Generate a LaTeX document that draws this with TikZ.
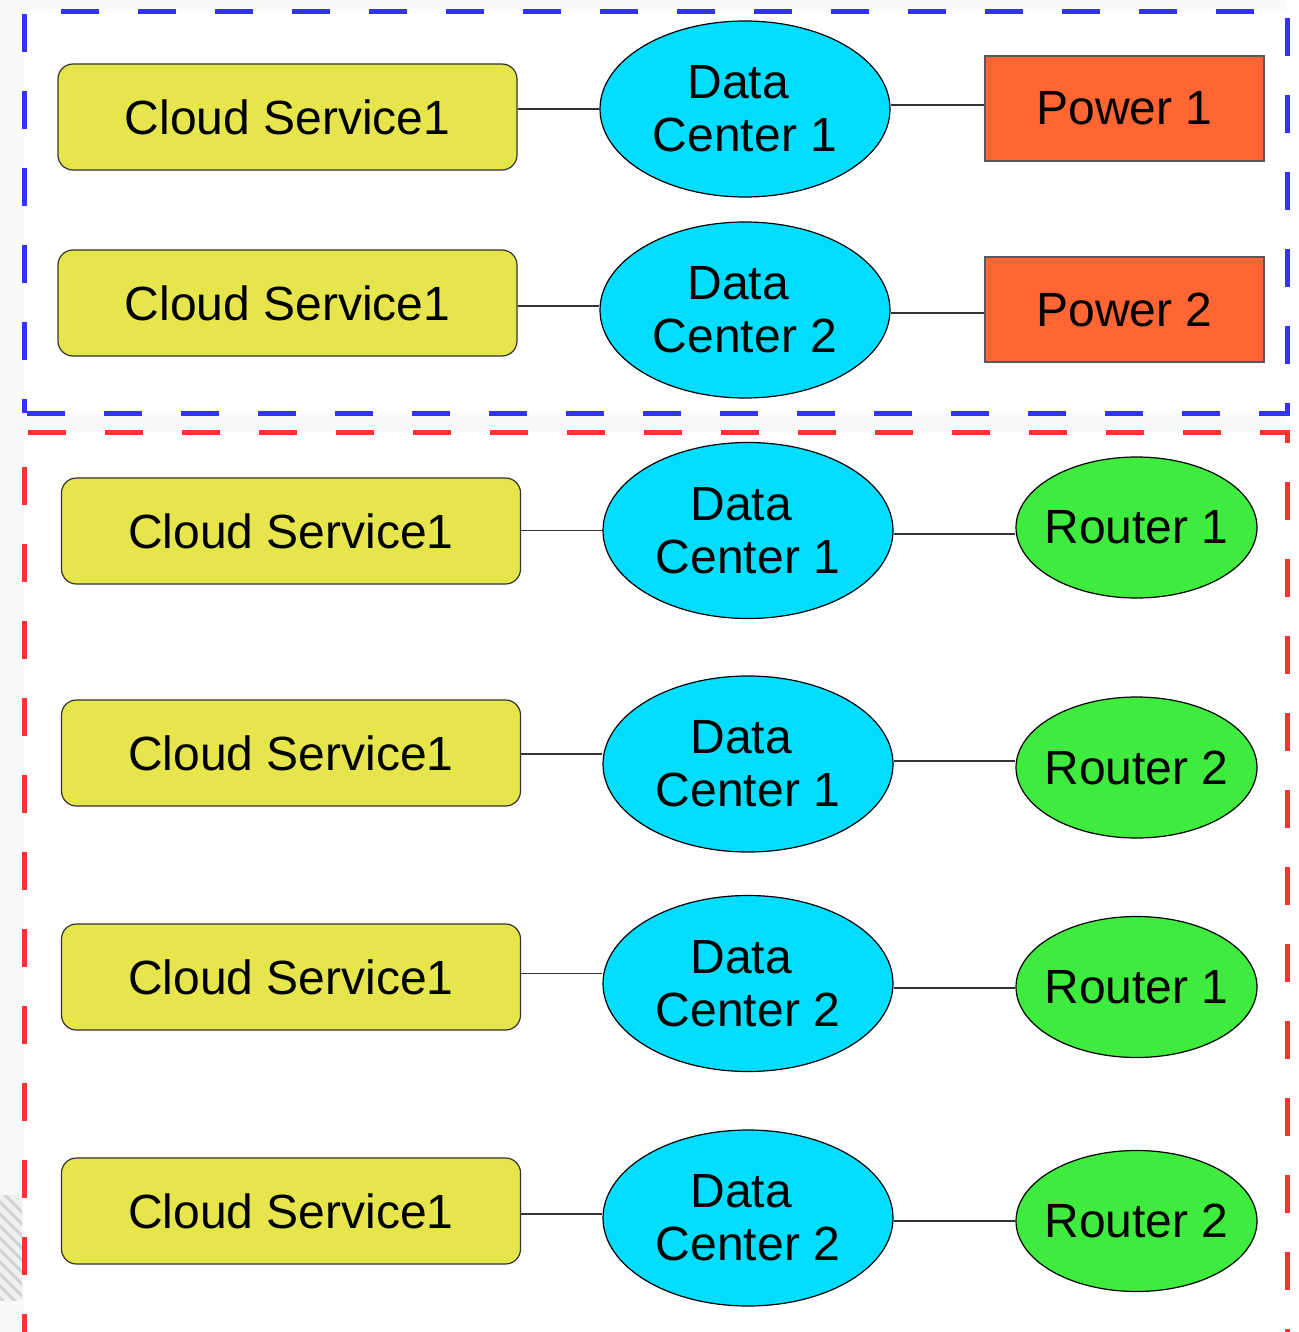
\documentclass[tikz,border=0pt]{standalone}
\usepackage{fontspec}
\setmainfont{Liberation Sans}
\usetikzlibrary{shapes.geometric}

\definecolor{csfill}{HTML}{E6E64C}
\definecolor{dcfill}{HTML}{00DDFF}
\definecolor{pwfill}{HTML}{FF6633}
\definecolor{rtfill}{HTML}{40EB40}
\definecolor{grpblue}{HTML}{3333FF}
\definecolor{grpred}{HTML}{FF3333}

\tikzset{
  every node/.style={font=\fontsize{48}{53}\selectfont, text=black, inner sep=0pt},
  cloudbox/.style={rectangle, rounded corners=15pt, draw=black!80, line width=1.2pt,
    fill=csfill, minimum width=459pt, minimum height=106pt},
  dcnode/.style={ellipse, draw=black, line width=1.2pt, fill=dcfill,
    minimum width=290pt, minimum height=176pt, align=center},
  powerbox/.style={rectangle, draw=black!65, line width=1.2pt, fill=pwfill,
    minimum width=279pt, minimum height=105pt},
  routernode/.style={ellipse, draw=black, line width=1.2pt, fill=rtfill,
    minimum width=241pt, minimum height=141pt},
  link/.style={draw=black!80, line width=1.5pt},
  groupline/.style={line width=5pt, dash pattern=on 38pt off 39pt}
}
% first line of a data-centre label keeps its trailing word space
\newcommand{\dcword}{Data\hspace*{0.278em}}

\begin{document}
\begin{tikzpicture}[x=1pt, y=-1pt]
  \useasboundingbox (0,0) rectangle (1298,1332);

  % page background and group interiors
  \fill[gray!4] (0,0) rectangle (1298,1332);
  \fill[white] (24,12) rectangle (1287,413);
  \fill[white] (24,432) rectangle (1298,1332);
  \fill[white] (1287,0) rectangle (1298,1332);
  \begin{scope}
    \clip (0,1195) rectangle (22,1300);
    \fill[gray!12] (0,1195) rectangle (22,1300);
    \foreach \k in {0,...,9} {
      \draw[gray!35, line width=3pt] (-10,1180+12*\k) -- (30,1220+12*\k);
    }
  \end{scope}

  % group outlines
  \draw[groupline, grpblue, dash phase=74pt]
    (24,413) -- (1287,413) -- (1287,12) -- (24,12) -- (24,413);
  \draw[groupline, grpred, dash phase=12pt]
    (24,1340) -- (24,432) -- (1287,432) -- (1287,1340);

  % upper group: power supplies
  \node[cloudbox] (cs1) at (287.5,117) {Cloud Service1};
  \node[cloudbox] (cs2) at (287.5,303) {Cloud Service1};
  \node[dcnode] (dc1) at (745,109) {\dcword\\Center 1};
  \node[dcnode] (dc2) at (745,310) {\dcword\\Center 2};
  \node[powerbox] (pw1) at (1124.5,108.5) {Power 1};
  \node[powerbox] (pw2) at (1124.5,309.5) {Power 2};

  % lower group: routers
  \node[cloudbox] (cs3) at (291,531) {Cloud Service1};
  \node[cloudbox] (cs4) at (291,753) {Cloud Service1};
  \node[cloudbox] (cs5) at (291,977) {Cloud Service1};
  \node[cloudbox] (cs6) at (291,1211) {Cloud Service1};
  \node[dcnode] (dc3) at (748,530.5) {\dcword\\Center 1};
  \node[dcnode] (dc4) at (748,764) {\dcword\\Center 1};
  \node[dcnode] (dc5) at (748,983.5) {\dcword\\Center 2};
  \node[dcnode] (dc6) at (748,1218) {\dcword\\Center 2};
  \node[routernode] (rt1) at (1136.5,527.5) {\makebox[0pt]{Router 1}};
  \node[routernode] (rt2) at (1136.5,767.5) {\makebox[0pt]{Router 2}};
  \node[routernode] (rt3) at (1136.5,987) {\makebox[0pt]{Router 1}};
  \node[routernode] (rt4) at (1136.5,1221) {\makebox[0pt]{Router 2}};

  % connectors
  \draw[link] (dc1.west) -- (dc1.west -| cs1.east);
  \draw[link] ([yshift=4pt]dc1.east) -- ([yshift=4pt]dc1.east -| pw1.west);
  \draw[link] ([yshift=4pt]dc2.west) -- ([yshift=4pt]dc2.west -| cs2.east);
  \draw[link] ([yshift=-3pt]dc2.east) -- ([yshift=-3pt]dc2.east -| pw2.west);

  \draw[link] (dc3.west) -- (dc3.west -| cs3.east);
  \draw[link] ([yshift=-3.5pt]dc3.east) -- ([yshift=-3.5pt]dc3.east -| rt1.west);
  \draw[link] ([yshift=10pt]dc4.west) -- ([yshift=10pt]dc4.west -| cs4.east);
  \draw[link] ([yshift=3pt]dc4.east) -- ([yshift=3pt]dc4.east -| rt2.west);
  \draw[link] ([yshift=10pt]dc5.west) -- ([yshift=10pt]dc5.west -| cs5.east);
  \draw[link] ([yshift=-4.5pt]dc5.east) -- ([yshift=-4.5pt]dc5.east -| rt3.west);
  \draw[link] ([yshift=4pt]dc6.west) -- ([yshift=4pt]dc6.west -| cs6.east);
  \draw[link] ([yshift=-3pt]dc6.east) -- ([yshift=-3pt]dc6.east -| rt4.west);
\end{tikzpicture}
\end{document}
